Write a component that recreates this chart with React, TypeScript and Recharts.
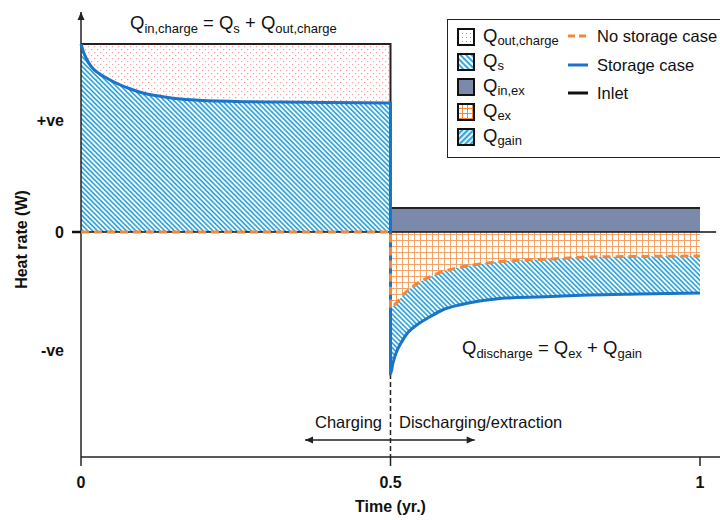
import React from 'react';
import { ComposedChart, Area, Line, XAxis, YAxis, ReferenceLine } from 'recharts';

// charging half-year (storage case outlet heat rate, inlet level)
const CHARGE_T = [0, 0.004, 0.009, 0.017, 0.028, 0.044, 0.06, 0.08, 0.1, 0.13, 0.16, 0.19, 0.22, 0.25, 0.32, 0.4, 0.5];
const CHARGE_STORAGE = [1.88, 1.8, 1.73, 1.65, 1.59, 1.53, 1.48, 1.43, 1.39, 1.355, 1.33, 1.318, 1.31, 1.305, 1.3, 1.295, 1.29];
const CHARGE_NO_STORAGE = 0;
const CHARGE_INLET = 1.88;

// discharging / extraction half-year
const DISCHARGE_T = [0.5, 0.504, 0.509, 0.517, 0.525, 0.536, 0.547, 0.563, 0.584, 0.611, 0.644, 0.67, 0.697, 0.76, 0.82, 0.9, 1.0];
const DISCHARGE_STORAGE = [-1.42, -1.31, -1.21, -1.11, -1.03, -0.96, -0.91, -0.85, -0.78, -0.73, -0.69, -0.67, -0.657, -0.645, -0.63, -0.62, -0.61];
const DISCHARGE_NO_STORAGE = [-0.76, -0.74, -0.713, -0.655, -0.6, -0.547, -0.5, -0.45, -0.397, -0.355, -0.32, -0.3, -0.287, -0.27, -0.25, -0.245, -0.24];
const DISCHARGE_INLET = 0.24;

const X_TICKS = [0, 0.5, 1];
const X_MAX = 1.0323;
const Y_TICKS = [1.12, 0, -1.18];
const Y_TICK_LABELS = ['+ve', '0', '-ve'];
const Y_MIN = -2.25;
const Y_MAX = 2.2;

const AREA_LEGEND = [
  { key: 'dots', q: 'out,charge' },
  { key: 'hatch', q: 's' },
  { key: 'solid', q: 'in,ex' },
  { key: 'grid', q: 'ex' },
  { key: 'hatch2', q: 'gain' },
];
const LINE_LEGEND = [
  { label: 'No storage case', color: '#f0883e', dash: '7 4' },
  { label: 'Storage case', color: '#1c74c9', dash: undefined },
  { label: 'Inlet', color: '#111', dash: undefined },
];

type Row = { t: number; phase: 'charge' | 'discharge'; storage: number; noStorage: number; inlet: number };

const rows: Row[] = [
  ...CHARGE_T.map((t, i) => ({ t, phase: 'charge' as const, storage: CHARGE_STORAGE[i], noStorage: CHARGE_NO_STORAGE, inlet: CHARGE_INLET })),
  ...DISCHARGE_T.map((t, i) => ({ t, phase: 'discharge' as const, storage: DISCHARGE_STORAGE[i], noStorage: DISCHARGE_NO_STORAGE[i], inlet: DISCHARGE_INLET })),
];

const qOutCharge = (r: Row) => (r.phase === 'charge' ? [r.storage, r.inlet] : null);
const qS = (r: Row) => (r.phase === 'charge' ? [0, r.storage] : null);
const qInEx = (r: Row) => (r.phase === 'discharge' ? [0, r.inlet] : null);
const qEx = (r: Row) => (r.phase === 'discharge' ? [r.noStorage, 0] : null);
const qGain = (r: Row) => (r.phase === 'discharge' ? [r.storage, r.noStorage] : null);

const FONT = '"Liberation Sans", Arial, Helvetica, sans-serif';
const BLUE = '#1c74c9';
const ORANGE = '#f0883e';
const HATCH = '#33a8e0';
const SLATE = '#7b89ab';

function head(tx: number, ty: number, ux: number, uy: number, len = 8, hw = 3.5) {
  const bx = tx - ux * len;
  const by = ty - uy * len;
  return `M${tx},${ty} L${bx - uy * hw},${by + ux * hw} L${bx + uy * hw},${by - ux * hw} Z`;
}

// line with arrow heads, used as a ReferenceLine shape
const arrowShape = (both: boolean) => (p: any) => {
  const { x1, y1, x2, y2 } = p;
  const L = Math.hypot(x2 - x1, y2 - y1) || 1;
  const ux = (x2 - x1) / L;
  const uy = (y2 - y1) / L;
  return (
    <g>
      <line x1={x1} y1={y1} x2={x2} y2={y2} stroke="#222" strokeWidth={1.5} />
      <path d={head(x2, y2, ux, uy)} fill="#222" />
      {both && <path d={head(x1, y1, -ux, -uy)} fill="#222" />}
    </g>
  );
};

const YTick = (p: any) => {
  const { y, payload } = p;
  const i = Y_TICKS.indexOf(payload.value);
  return (
    <g>
      {payload.value === 0 && <line x1={72} y1={y} x2={81} y2={y} stroke="#111" strokeWidth={2.5} />}
      <text x={64} y={y} dy="0.36em" textAnchor="end" fill="#111" fontSize={16} fontWeight={700} fontFamily={FONT}>
        {Y_TICK_LABELS[i]}
      </text>
    </g>
  );
};

const yTitle = (p: any) => {
  const vb = p.viewBox || { x: 0, y: 12, width: 81, height: 445 };
  const x = vb.x + 27;
  const y = vb.y + vb.height / 2 + 5;
  return (
    <text x={x} y={y} transform={`rotate(-90 ${x} ${y})`} textAnchor="middle" fill="#111" fontSize={16} fontWeight={700} fontFamily={FONT}>
      Heat rate (W)
    </text>
  );
};

const xTitle = (p: any) => {
  const vb = p.viewBox || { x: 81, y: 457, width: 639, height: 63 };
  const x = vb.x + (vb.width * 0.5) / X_MAX;
  return (
    <text x={x} y={vb.y + 55} textAnchor="middle" fill="#111" fontSize={16} fontWeight={700} fontFamily={FONT}>
      Time (yr.)
    </text>
  );
};

const Sub = ({ children, size = 13, drop = 4 }: { children: React.ReactNode; size?: number; drop?: number }) => (
  <span style={{ fontSize: size, position: 'relative', top: drop }}>{children}</span>
);

function Swatch({ kind }: { kind: string }) {
  const id = `sw-${kind}`;
  let pat: React.ReactNode = null;
  let fill = SLATE;
  if (kind === 'dots') {
    pat = (
      <pattern id={id} width="4" height="4" patternUnits="userSpaceOnUse">
        <rect x="1" y="1" width="1" height="1" fill="#999" />
      </pattern>
    );
    fill = `url(#${id})`;
  } else if (kind === 'hatch' || kind === 'hatch2') {
    pat = (
      <pattern id={id} width="4" height="4" patternUnits="userSpaceOnUse" patternTransform={kind === 'hatch' ? 'rotate(-45)' : 'rotate(45)'}>
        <rect width={kind === 'hatch' ? 2 : 2.4} height="4" fill={HATCH} />
      </pattern>
    );
    fill = `url(#${id})`;
  } else if (kind === 'grid') {
    pat = (
      <pattern id={id} width="5" height="5" patternUnits="userSpaceOnUse">
        <path d="M0 0.5 H5 M0.5 0 V5" stroke={ORANGE} strokeWidth="1" fill="none" />
      </pattern>
    );
    fill = `url(#${id})`;
  }
  return (
    <svg width={18} height={18} style={{ position: 'absolute', left: 0, top: 0 }}>
      <defs>{pat}</defs>
      <rect x={1} y={1} width={16} height={16} fill="#fff" />
      <rect x={1} y={1} width={16} height={16} fill={fill} stroke="#111" strokeWidth={2} />
    </svg>
  );
}

function LegendBox() {
  return (
    <div style={{ position: 'absolute', left: 447, top: 19, width: 280, height: 137, border: '1.5px solid #222', background: '#fff' }}>
      {AREA_LEGEND.map((item, i) => (
        <div key={item.key} style={{ position: 'absolute', left: 9, top: 8 + i * 25, width: 120, height: 20 }}>
          <Swatch kind={item.key} />
          <div style={{ position: 'absolute', left: 26, top: -2, fontSize: 18.5, lineHeight: '20px', whiteSpace: 'nowrap', color: '#111' }}>
            Q<Sub size={13} drop={3}>{item.q}</Sub>
          </div>
        </div>
      ))}
      {LINE_LEGEND.map((item, i) => (
        <div key={item.label} style={{ position: 'absolute', left: 120, top: 6 + i * 28.5, height: 20, width: 160 }}>
          <svg width={22} height={20} style={{ position: 'absolute', left: 0, top: 0 }}>
            <line x1={0} y1={10} x2={20} y2={10} stroke={item.color} strokeWidth={3} strokeDasharray={item.dash} />
          </svg>
          <div style={{ position: 'absolute', left: 29, top: 0, fontSize: 16.5, lineHeight: '20px', whiteSpace: 'nowrap', color: '#111' }}>
            {item.label}
          </div>
        </div>
      ))}
    </div>
  );
}

export default function App() {
  return (
    <div style={{ position: 'absolute', left: 0, top: 0, width: 720, height: 520, fontFamily: FONT, color: '#111', overflow: 'hidden', background: '#fff' }}>
      <ComposedChart width={720} height={520} data={rows} margin={{ top: 12, right: 0, bottom: 0, left: 0 }}>
        <defs>
          <pattern id="qOutDots" width="6" height="6" patternUnits="userSpaceOnUse">
            <rect x="1" y="1" width="1.2" height="1.2" fill="#f4a0a0" />
            <rect x="4" y="4" width="1.2" height="1.2" fill="#f4a0a0" />
          </pattern>
          <pattern id="qHatch" width="3.4" height="3.4" patternUnits="userSpaceOnUse" patternTransform="rotate(-45)">
            <rect width="1.7" height="3.4" fill={HATCH} />
          </pattern>
          <pattern id="qGrid" width="6" height="6" patternUnits="userSpaceOnUse">
            <path d="M0 0.5 H6 M0.5 0 V6" stroke="#f39858" strokeWidth="0.9" fill="none" />
          </pattern>
        </defs>
        <XAxis
          dataKey="t"
          type="number"
          domain={[0, X_MAX]}
          ticks={X_TICKS}
          height={63}
          tickSize={9}
          tickMargin={11}
          axisLine={{ stroke: '#222', strokeWidth: 1.5 }}
          tickLine={{ stroke: '#222', strokeWidth: 1.5 }}
          tick={{ fill: '#111', fontSize: 16, fontWeight: 700, fontFamily: FONT }}
          label={xTitle}
        />
        <YAxis
          type="number"
          domain={[Y_MIN, Y_MAX]}
          ticks={Y_TICKS}
          width={81}
          axisLine={false}
          tickLine={false}
          tick={<YTick />}
          label={yTitle}
        />
        <Area dataKey={qOutCharge} type="monotone" stroke="none" fill="url(#qOutDots)" fillOpacity={1} isAnimationActive={false} activeDot={false} />
        <Area dataKey={qS} type="monotone" stroke="none" fill="url(#qHatch)" fillOpacity={1} isAnimationActive={false} activeDot={false} />
        <Area dataKey={qInEx} type="linear" stroke="none" fill={SLATE} fillOpacity={1} isAnimationActive={false} activeDot={false} />
        <Area dataKey={qEx} type="monotone" stroke="none" fill="url(#qGrid)" fillOpacity={1} isAnimationActive={false} activeDot={false} />
        <Area dataKey={qGain} type="monotone" stroke="none" fill="url(#qHatch)" fillOpacity={1} isAnimationActive={false} activeDot={false} />
        <ReferenceLine segment={[{ x: 0, y: 0 }, { x: 1.026, y: 0 }]} stroke="#111" strokeWidth={1.5} ifOverflow="visible" />
        <ReferenceLine segment={[{ x: 0.5, y: DISCHARGE_STORAGE[0] }, { x: 0.5, y: Y_MIN }]} stroke="#222" strokeWidth={1.5} strokeDasharray="5 3" />
        <ReferenceLine segment={[{ x: 0, y: Y_MIN }, { x: 0, y: Y_MAX }]} ifOverflow="visible" shape={arrowShape(false)} />
        <ReferenceLine segment={[{ x: 0.362, y: -2.08 }, { x: 0.636, y: -2.08 }]} shape={arrowShape(true)} />
        <Line dataKey="inlet" type="linear" stroke="#222" strokeWidth={2} dot={false} activeDot={false} isAnimationActive={false} />
        <Line dataKey="storage" type="monotone" stroke={BLUE} strokeWidth={3} dot={false} activeDot={false} isAnimationActive={false} />
        <Line dataKey="noStorage" type="monotone" stroke={ORANGE} strokeWidth={3} strokeDasharray="8 5" dot={false} activeDot={false} isAnimationActive={false} />
      </ComposedChart>

      <div style={{ position: 'absolute', left: 130, top: 13, fontSize: 18.5, lineHeight: '20px', whiteSpace: 'nowrap' }}>
        Q<Sub>in,charge</Sub> = Q<Sub>s</Sub> + Q<Sub>out,charge</Sub>
      </div>
      <div style={{ position: 'absolute', left: 462, top: 338, fontSize: 18.5, lineHeight: '20px', whiteSpace: 'nowrap' }}>
        Q<Sub>discharge</Sub> = Q<Sub>ex</Sub> + Q<Sub>gain</Sub>
      </div>
      <div style={{ position: 'absolute', right: 338, top: 412, fontSize: 16.5, lineHeight: '20px', whiteSpace: 'nowrap' }}>Charging</div>
      <div style={{ position: 'absolute', left: 399, top: 412, fontSize: 16.5, lineHeight: '20px', whiteSpace: 'nowrap' }}>Discharging/extraction</div>
      <LegendBox />
    </div>
  );
}
